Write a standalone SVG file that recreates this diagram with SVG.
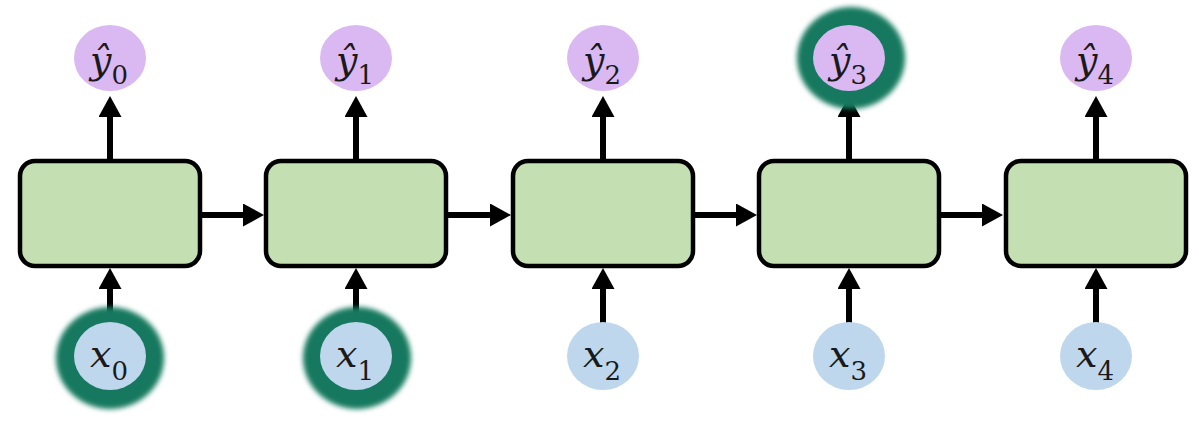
<svg xmlns="http://www.w3.org/2000/svg" width="1199" height="427" viewBox="0 0 1199 427">
  <style>
    .cell { fill: #c4dfb2; stroke: #000; stroke-width: 4.5; }
    .out { fill: #dab8f2; }
    .in { fill: #bed7ed; }
    .glow { fill: #12795f; filter: url(#soft); }
    .wire { stroke: #000; stroke-width: 6; fill: none; marker-end: url(#head); }
    .lbl { font-family: "DejaVu Serif", "Liberation Serif", serif; font-style: italic; font-size: 38px; fill: #1a1a1a; }
    .sub { font-style: normal; font-size: 26px; }
  </style>
  <defs>
    <marker id="head" viewBox="0 0 21 23" refX="6" refY="11.5" markerWidth="21" markerHeight="23" markerUnits="userSpaceOnUse" orient="auto">
      <path d="M0,0 L21,11.5 L0,23 Z" fill="#000"/>
    </marker>
    <filter id="soft" x="-30%" y="-30%" width="160%" height="160%">
      <feGaussianBlur stdDeviation="2.5"/>
    </filter>
  </defs>
  <rect width="1199" height="427" fill="#fff"/>

  <!-- connectors -->
  <g id="connectors">
    <!-- cell to cell -->
    <line class="wire" x1="202" y1="215" x2="249" y2="215"/>
    <line class="wire" x1="448" y1="215" x2="496" y2="215"/>
    <line class="wire" x1="695" y1="215" x2="742" y2="215"/>
    <line class="wire" x1="941" y1="215" x2="988" y2="215"/>
    <!-- cell to output -->
    <line class="wire" x1="110" y1="159" x2="110" y2="111"/>
    <line class="wire" x1="356" y1="159" x2="356" y2="111"/>
    <line class="wire" x1="603" y1="159" x2="603" y2="111"/>
    <line class="wire" x1="849" y1="159" x2="849" y2="111"/>
    <line class="wire" x1="1096" y1="159" x2="1096" y2="111"/>
    <!-- input to cell -->
    <line class="wire" x1="110" y1="324" x2="110" y2="283"/>
    <line class="wire" x1="356" y1="324" x2="356" y2="283"/>
    <line class="wire" x1="603" y1="324" x2="603" y2="283"/>
    <line class="wire" x1="849" y1="324" x2="849" y2="283"/>
    <line class="wire" x1="1096" y1="324" x2="1096" y2="283"/>
  </g>

  <!-- recurrent cells -->
  <g id="cell0"><rect class="cell" x="20" y="161" width="180" height="105" rx="15"/></g>
  <g id="cell1"><rect class="cell" x="266" y="161" width="180" height="105" rx="15"/></g>
  <g id="cell2"><rect class="cell" x="513" y="161" width="180" height="105" rx="15"/></g>
  <g id="cell3"><rect class="cell" x="759" y="161" width="180" height="105" rx="15"/></g>
  <g id="cell4"><rect class="cell" x="1006" y="161" width="180" height="105" rx="15"/></g>

  <!-- outputs -->
  <g id="y0">
    <ellipse class="out" cx="110" cy="58" rx="36" ry="33"/>
    <text class="lbl" x="90" y="73">ŷ<tspan class="sub" y="84">0</tspan></text>
  </g>
  <g id="y1">
    <ellipse class="out" cx="356" cy="58" rx="36" ry="33"/>
    <text class="lbl" x="336" y="73">ŷ<tspan class="sub" y="84">1</tspan></text>
  </g>
  <g id="y2">
    <ellipse class="out" cx="603" cy="58" rx="36" ry="33"/>
    <text class="lbl" x="583" y="73">ŷ<tspan class="sub" y="84">2</tspan></text>
  </g>
  <g id="y3">
    <ellipse class="glow" cx="851" cy="58" rx="54" ry="51"/>
    <ellipse class="out" cx="849" cy="58" rx="36" ry="33"/>
    <text class="lbl" x="829" y="73">ŷ<tspan class="sub" y="84">3</tspan></text>
  </g>
  <g id="y4">
    <ellipse class="out" cx="1096" cy="58" rx="36" ry="33"/>
    <text class="lbl" x="1076" y="73">ŷ<tspan class="sub" y="84">4</tspan></text>
  </g>

  <!-- inputs -->
  <g id="x0">
    <ellipse class="glow" cx="110" cy="358" rx="54" ry="51"/>
    <ellipse class="in" cx="110" cy="356" rx="36" ry="34"/>
    <text class="lbl" x="90" y="367">x<tspan class="sub" y="380">0</tspan></text>
  </g>
  <g id="x1">
    <ellipse class="glow" cx="357" cy="358" rx="54" ry="51"/>
    <ellipse class="in" cx="356" cy="356" rx="36" ry="34"/>
    <text class="lbl" x="336" y="367">x<tspan class="sub" y="380">1</tspan></text>
  </g>
  <g id="x2">
    <ellipse class="in" cx="603" cy="356" rx="36" ry="34"/>
    <text class="lbl" x="583" y="367">x<tspan class="sub" y="380">2</tspan></text>
  </g>
  <g id="x3">
    <ellipse class="in" cx="849" cy="356" rx="36" ry="34"/>
    <text class="lbl" x="829" y="367">x<tspan class="sub" y="380">3</tspan></text>
  </g>
  <g id="x4">
    <ellipse class="in" cx="1096" cy="356" rx="36" ry="34"/>
    <text class="lbl" x="1076" y="367">x<tspan class="sub" y="380">4</tspan></text>
  </g>
</svg>
